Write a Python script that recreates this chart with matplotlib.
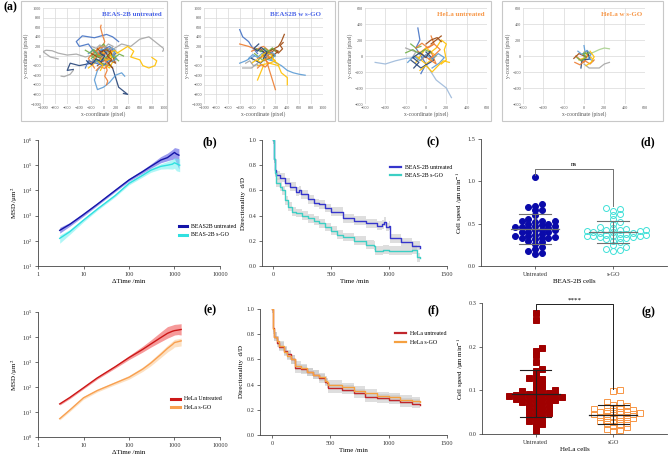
import numpy as np
import matplotlib
matplotlib.use('Agg')
import matplotlib.pyplot as plt
from matplotlib.patches import Rectangle

plt.rcParams['font.family'] = ['Liberation Serif', 'DejaVu Serif']
plt.rcParams['mathtext.fontset'] = 'stix'

W, H = 669, 455
fig = plt.figure(figsize=(W / 100, H / 100), dpi=100)

# ---------------- data ----------------
# (a) trajectories (pixel units)
xl_blue, xl_orange, xl_gray, xl_gold = '#4472C4', '#ED7D31', '#A5A5A5', '#FFC000'
xl_lblue, xl_green, xl_dblue, xl_brown = '#5B9BD5', '#70AD47', '#264478', '#9E480E'

tracks_beas_u = [
    (xl_gray, [(0, 0), (-150, 30), (-300, -20), (-450, 40), (-600, 20), (-750, 60), (-850, 110), (-950, 120), (-1000, 90), (-880, -20), (-750, -60)]),
    (xl_gray, [(100, 100), (300, 250), (450, 200), (600, 350), (750, 400), (850, 300), (950, 200), (1000, 150), (980, 100)]),
    (xl_gray, [(-500, -300), (-550, -380), (-650, -430), (-700, -420)]),
    (xl_blue, [(0, 0), (-150, 80), (-250, 250), (-400, 200), (-450, 300), (-350, 420), (-150, 380), (50, 450), (150, 400), (250, 300)]),
    (xl_dblue, [(0, -50), (-200, -150), (-400, -200), (-550, -150), (-600, -300), (-500, -280)]),
    (xl_dblue, [(50, -100), (150, -250), (200, -450), (250, -650), (350, -750), (400, -800), (330, -780)]),
    (xl_lblue, [(0, -150), (-100, -300), (-150, -500), (-100, -700), (0, -650), (100, -550), (200, -400), (300, -350), (350, -420)]),
    (xl_orange, [(0, 0), (-30, 150), (20, 300), (-20, 450), (-50, 600), (-40, 640)]),
    (xl_orange, [(30, -150), (60, -300), (20, -420), (70, -520), (50, -600)]),
    (xl_gold, [(100, 0), (250, 80), (400, 200), (500, 100), (450, -20), (600, -80), (650, -200), (750, -250), (850, -200), (880, -100), (800, -30)]),
    (xl_gold, [(-250, -250), (-100, -100), (100, -250), (200, 0), (50, 100), (-100, 0)]),
    (xl_green, [(-200, -50), (-100, 50), (0, -100), (100, 50), (50, 150), (-50, 100), (-150, -100)]),
    (xl_green, [(100, -200), (-50, -150), (-200, 0), (0, 250), (150, 0), (250, -100)]),
    (xl_orange, [(-200, -150), (-100, 50), (50, -100), (150, 100), (0, 200), (-150, 100), (-250, -50), (-150, -250)]),
    (xl_brown, [(-100, -200), (50, -50), (200, -150), (100, 150), (-50, -50), (-200, 50)]),
    (xl_blue, [(-50, 100), (100, 200), (200, 50), (0, -200), (-250, -100), (-300, -250)]),
    (xl_lblue, [(-250, 50), (-180, 120), (-100, 60), (-30, 150), (60, 90), (120, 180), (200, 120), (150, 20), (220, -60), (120, -120), (30, -60), (-80, -140), (-180, -80)]),
    (xl_orange, [(-120, -300), (-60, -220), (20, -260), (80, -180), (20, -100), (90, -20), (30, 60), (-60, 20), (-120, 110), (-60, 190)]),
    (xl_green, [(-300, 120), (-220, 60), (-160, 140), (-90, -20), (-20, 40), (40, -40), (110, 20), (180, -40), (260, 40), (330, 0)]),
    (xl_gold, [(-50, -300), (-10, -200), (-80, -120), (-20, -30), (60, -90), (140, -40), (100, 60), (180, 120), (240, 60)]),
    (xl_gray, [(-200, 200), (-120, 160), (-60, 230), (20, 170), (80, 250), (160, 200), (100, 120), (30, 20), (-40, -40)]),
    (xl_dblue, [(-280, -100), (-200, -180), (-120, -60), (-40, -120), (20, 0), (-60, 60), (0, 120), (60, 40)]),
    (xl_brown, [(150, -250), (80, -150), (140, -80), (60, 0), (120, 80), (40, 130), (-40, 80), (-100, 150)]),
]

tracks_beas_go = [
    (xl_lblue, [(0, -50), (150, -100), (300, -200), (400, -300), (500, -350), (600, -380), (700, -400)]),
    (xl_blue, [(-100, 50), (-200, 200), (-250, 300), (-350, 400), (-400, 550)]),
    (xl_orange, [(0, 100), (-150, 150), (-250, 200), (-400, 250)]),
    (xl_orange, [(50, -100), (100, -300), (150, -500), (200, -700)]),
    (xl_gold, [(100, -150), (250, -200), (300, -350), (400, -450), (400, -600)]),
    (xl_gold, [(0, -200), (-50, -350), (-100, -500)]),
    (xl_brown, [(100, 100), (250, 200), (300, 300), (350, 450)]),
    (xl_gray, [(-100, -150), (-200, -250), (-350, -250)]),
    (xl_lblue, [(-150, 0), (-300, -100), (-400, -150)]),
    (xl_green, [(-100, -100), (50, 100), (200, 0), (0, -100), (-150, 50)]),
    (xl_brown, [(0, 0), (150, 150), (250, 100), (100, -50), (-50, 150)]),
    (xl_dblue, [(-200, -50), (-50, -150), (100, 50), (-50, 100)]),
    (xl_gold, [(-100, -200), (100, -150), (200, -100), (50, 0)]),
    (xl_orange, [(-200, 100), (0, 200), (150, 50), (-100, -50)]),
    (xl_brown, [(100, 50), (180, 120), (250, 60), (320, 150), (280, 220), (330, 280)]),
    (xl_lblue, [(-250, -50), (-180, 30), (-100, -30), (-20, 60), (60, 0), (140, 80), (200, 20), (120, -80)]),
    (xl_orange, [(-100, -250), (-40, -180), (30, -230), (90, -150), (20, -80), (100, -20), (40, 40)]),
    (xl_gold, [(-200, -150), (-120, -80), (-50, -130), (20, -60), (-30, 20), (50, 80), (120, 30), (200, -120), (260, -180)]),
    (xl_green, [(-120, 150), (-50, 90), (20, 160), (80, 100), (150, 170), (200, 100)]),
    (xl_gray, [(-300, -150), (-230, -100), (-170, -200), (-100, -180)]),
    (xl_dblue, [(0, -50), (60, 80), (-40, 180), (-100, 100), (-160, 160), (-80, 250)]),
]

tracks_hela_u = [
    ('#9DB9DA', [(0, 0), (-100, -20), (-200, -30), (-300, -60), (-400, -100), (-500, -80)]),
    ('#9DB9DA', [(0, -100), (50, -200), (100, -300), (200, -400), (220, -450), (250, -520)]),
    (xl_blue, [(-80, 350), (-60, 200), (-100, 100), (-50, 0), (0, -100), (-50, -220)]),
    (xl_gold, [(0, 0), (100, 100), (150, 200), (200, 150), (180, 80), (200, -50), (150, -100)]),
    (xl_orange, [(50, 250), (80, 150), (0, 100), (-50, 50)]),
    (xl_green, [(-150, 150), (-100, 100), (-50, 120)]),
    (xl_brown, [(50, 150), (100, 200), (150, 250)]),
    (xl_gold, [(-100, 0), (0, -100), (100, 0), (0, 100), (-100, -80)]),
    (xl_dblue, [(-150, -50), (-50, -150), (80, -50), (0, 50)]),
    (xl_orange, [(-50, -50), (50, 50), (100, -100), (-80, 60)]),
    (xl_gray, [(-200, 100), (-100, 50), (-150, -50)]),
    (xl_lblue, [(-180, -80), (-120, 0), (-60, -60), (0, 20), (60, -40), (120, 30), (180, -20), (130, -90), (60, -150)]),
    (xl_orange, [(-100, 100), (-40, 160), (20, 100), (80, 150), (140, 80), (90, 20), (30, -40)]),
    (xl_gold, [(-60, -180), (0, -120), (60, -200), (120, -120), (170, -60), (230, -80)]),
    (xl_green, [(-200, 40), (-130, 80), (-70, 30), (-10, 80), (50, 40)]),
    (xl_dblue, [(-120, -150), (-70, -80), (-130, -20), (-60, 40), (0, -20), (40, 60)]),
    (xl_brown, [(0, 150), (50, 200), (110, 230), (150, 180)]),
]

tracks_hela_go = [
    ('#A9D18E', [(0, 0), (100, 50), (150, 80), (200, 100), (250, 90)]),
    (xl_gray, [(0, -100), (50, -150), (150, -150), (200, -100), (250, -80)]),
    (xl_lblue, [(0, -50), (10, 50), (0, 130)]),
    (xl_gold, [(-50, -50), (50, 0), (0, 50), (80, -30)]),
    (xl_orange, [(-80, 0), (0, -80), (40, 20)]),
    (xl_dblue, [(-30, -150), (-20, -50), (60, -40), (30, 60)]),
    (xl_brown, [(-100, -30), (-50, 30), (20, -10)]),
    (xl_lblue, [(-60, 60), (-20, 20), (30, 70), (70, 20), (40, -30), (90, -60)]),
    (xl_orange, [(-90, -80), (-40, -110), (10, -60), (60, -100), (100, -50)]),
    (xl_green, [(-70, -20), (-30, -60), (20, -20), (-10, 30), (50, 40)]),
    (xl_gold, [(20, -120), (70, -80), (100, -10), (60, 60)]),
]

# (b) MSD BEAS-2B
msd_t_beas_u = [3, 5, 10, 20, 50, 100, 200, 300, 500, 700, 900, 1000, 1100, 1250]
msd_beas_u = [260, 450, 1100, 2800, 10000, 26000, 56000, 90000, 160000, 200000, 280000, 320000, 280000, 250000]
msd_beas_u_lo = [200, 380, 950, 2500, 9000, 23000, 48000, 75000, 125000, 150000, 170000, 180000, 120000, 70000]
msd_beas_u_hi = [340, 530, 1300, 3200, 11500, 30000, 66000, 110000, 220000, 300000, 420000, 500000, 480000, 450000]
msd_t_beas_go = [3, 5, 10, 20, 50, 100, 200, 300, 500, 700, 900, 1000, 1100, 1300]
msd_beas_go = [125, 230, 660, 1800, 6300, 19000, 40000, 63000, 90000, 100000, 110000, 125000, 115000, 100000]
msd_beas_go_lo = [80, 180, 560, 1600, 5600, 16500, 34000, 52000, 70000, 72000, 70000, 75000, 60000, 55000]
msd_beas_go_hi = [170, 280, 770, 2050, 7000, 22000, 47000, 76000, 115000, 140000, 170000, 200000, 190000, 180000]

# (e) MSD HeLa
msd_t_hela = [3, 5, 10, 20, 50, 100, 200, 300, 500, 700, 900, 1000, 1200, 1400]
msd_hela_u = [21, 38, 93, 230, 650, 1500, 3200, 5200, 9500, 14000, 17000, 18000, 19000, 20000]
msd_hela_u_lo = [19, 34, 84, 205, 570, 1250, 2500, 3900, 6500, 9000, 11000, 12000, 12500, 12000]
msd_hela_u_hi = [23, 42, 103, 255, 740, 1800, 4300, 7500, 16000, 26000, 30000, 32000, 33000, 34000]
msd_hela_go = [5.4, 12, 37, 72, 145, 245, 520, 900, 2000, 3500, 5000, 6000, 6500, 7000]
msd_hela_go_lo = [4.8, 10.5, 32, 63, 125, 205, 420, 700, 1500, 2500, 3400, 4000, 4200, 4400]
msd_hela_go_hi = [6.0, 13.5, 42, 82, 165, 290, 630, 1120, 2600, 4600, 6800, 8000, 8500, 9000]

# (c) directionality BEAS-2B
dir_t_beas_u = [0, 5, 15, 30, 60, 100, 150, 200, 220, 240, 300, 350, 400, 450, 500, 600, 700, 800, 900, 940, 955, 970, 1000, 1010, 1080, 1100, 1150, 1200, 1270]
dir_beas_u = [1.0, 0.85, 0.76, 0.72, 0.7, 0.66, 0.63, 0.59, 0.6, 0.57, 0.53, 0.5, 0.49, 0.46, 0.43, 0.38, 0.36, 0.34, 0.32, 0.33, 0.35, 0.31, 0.32, 0.22, 0.22, 0.19, 0.19, 0.16, 0.14]
dir_t_beas_go = [0, 5, 15, 30, 60, 80, 100, 130, 160, 200, 250, 300, 350, 400, 450, 500, 550, 600, 700, 800, 870, 880, 950, 1000, 1100, 1200, 1235, 1240, 1265]
dir_beas_go = [1.0, 0.85, 0.74, 0.66, 0.63, 0.6, 0.52, 0.47, 0.43, 0.42, 0.4, 0.38, 0.36, 0.34, 0.31, 0.28, 0.25, 0.23, 0.2, 0.17, 0.16, 0.12, 0.13, 0.12, 0.12, 0.13, 0.13, 0.07, 0.06]

# (f) directionality HeLa
dir_t_hela = [0, 5, 20, 40, 60, 100, 130, 160, 200, 250, 300, 350, 400, 450, 470, 480, 550, 600, 700, 800, 900, 1000, 1100, 1200, 1270]
dir_hela_u = [1.0, 0.85, 0.78, 0.73, 0.7, 0.67, 0.64, 0.6, 0.53, 0.52, 0.5, 0.48, 0.45, 0.42, 0.41, 0.37, 0.37, 0.36, 0.33, 0.3, 0.29, 0.28, 0.26, 0.25, 0.24]
dir_hela_go = [1.0, 0.84, 0.78, 0.75, 0.71, 0.66, 0.63, 0.6, 0.55, 0.53, 0.5, 0.48, 0.46, 0.43, 0.42, 0.40, 0.40, 0.38, 0.35, 0.33, 0.31, 0.3, 0.28, 0.27, 0.26]

# (d) cell speed BEAS-2B
speed_beas_u = [1.05, 0.73, 0.71, 0.70, 0.66, 0.66, 0.60, 0.55, 0.53, 0.53, 0.53, 0.52, 0.50, 0.50, 0.48,
                0.47, 0.47, 0.46, 0.46, 0.45, 0.45, 0.43, 0.42, 0.42, 0.40, 0.40, 0.40, 0.38, 0.37, 0.35,
                0.35, 0.34, 0.33, 0.33, 0.33, 0.32, 0.30, 0.28, 0.26, 0.22, 0.20, 0.18, 0.15, 0.14]
speed_beas_go = [0.69, 0.67, 0.65, 0.62, 0.60, 0.55, 0.52, 0.50, 0.46, 0.45, 0.44, 0.43, 0.42, 0.42, 0.41,
                 0.41, 0.40, 0.40, 0.39, 0.39, 0.38, 0.38, 0.37, 0.37, 0.36, 0.36, 0.35, 0.35, 0.34, 0.34,
                 0.33, 0.33, 0.32, 0.30, 0.28, 0.25, 0.22, 0.20, 0.19, 0.18]

# (g) cell speed HeLa
speed_hela_u = [0.278, 0.262, 0.198, 0.19, 0.18, 0.165, 0.15, 0.145, 0.13, 0.128, 0.125, 0.12, 0.115, 0.11,
                0.105, 0.1, 0.1, 0.098, 0.095, 0.093, 0.092, 0.09, 0.09, 0.088, 0.087, 0.086, 0.085, 0.085,
                0.084, 0.082, 0.08, 0.08, 0.078, 0.077, 0.075, 0.073, 0.072, 0.07, 0.068, 0.065, 0.062, 0.06,
                0.058, 0.055, 0.052, 0.05, 0.048, 0.045, 0.042, 0.04, 0.035, 0.03, 0.028, 0.022, 0.018, 0.008]
speed_hela_go = [0.1, 0.098, 0.073, 0.07, 0.067, 0.065, 0.062, 0.06, 0.058, 0.057, 0.055, 0.053, 0.052, 0.05,
                 0.05, 0.048, 0.047, 0.046, 0.045, 0.044, 0.042, 0.04, 0.04, 0.038, 0.036, 0.035, 0.033, 0.03,
                 0.03, 0.028, 0.025, 0.022, 0.02, 0.018, 0.015, 0.012, 0.01, 0.008]


# ---------------- helpers ----------------
def box(l, t, r, b):
    return [l / W, 1 - b / H, (r - l) / W, (b - t) / H]


def traj_panel(frame, area, lim, tracks, title, tcolor):
    l, t, r, b = frame
    fig.patches.append(Rectangle((l / W, 1 - b / H), (r - l) / W, (b - t) / H,
                                 transform=fig.transFigure, fill=False, ec='#C8C8C8', lw=0.8))
    ax = fig.add_axes(box(*area))
    for col, pts in tracks:
        xs, ys = zip(*pts)
        ax.plot(xs, ys, color=col, lw=0.9, alpha=0.9)
    ax.set_xlim(-lim, lim)
    ax.set_ylim(-lim, lim)
    ticks = np.arange(-lim, lim + 1, 200)
    ax.set_xticks(ticks)
    ax.set_yticks(ticks)
    ax.grid(color='#D9D9D9', lw=0.5)
    ax.set_axisbelow(True)
    for s in ax.spines.values():
        s.set_visible(False)
    ax.tick_params(length=0, labelsize=3.1, colors='#595959', pad=1.5)
    ax.set_xlabel('x-coordinate (pixel)', fontsize=4, color='#595959', labelpad=1)
    ax.set_ylabel('y-coordinate (pixel)', fontsize=4, color='#595959', labelpad=1)
    ax.text(0.98, 0.93, title, transform=ax.transAxes, ha='right', va='center',
            fontsize=5, fontweight='bold', color=tcolor)


def prism(ax):
    for s in ['top', 'right']:
        ax.spines[s].set_visible(False)
    for s in ['left', 'bottom']:
        ax.spines[s].set_linewidth(0.6)
        ax.spines[s].set_color('#444444')
    ax.tick_params(direction='out', length=2.5, width=0.5, labelsize=4.5, pad=1.5, colors='#333333')
    ax.tick_params(which='minor', length=0)


def swarm(vals, xc, sx, sy, step, dia):
    # simple beeswarm in pixel space: each point takes the nearest free slot
    placed = []
    xs, ys = [], []
    cands = [0.0]
    for k in range(1, 40):
        cands += [k * 0.5, -k * 0.5]
    for v in sorted(vals):
        yp = v * sy
        for c in cands:
            xp = c * step
            if all(abs(xp - qx) >= step * 0.99 or abs(yp - qy) >= dia for qx, qy in placed):
                break
        placed.append((xp, yp))
        xs.append(xc + xp / sx)
        ys.append(v)
    return xs, ys


def msd_panel(area, series, ylim, legend_at, label):
    ax = fig.add_axes(box(*area))
    for t, m, lo, hi, c, cb, name in series:
        ax.fill_between(t, lo, hi, color=cb, alpha=0.55, lw=0)
        ax.plot(t, m, color=c, lw=1.0, label=name)
    ax.set_xscale('log')
    ax.set_yscale('log')
    ax.set_xlim(1, 10000)
    ax.set_ylim(*ylim)
    ax.set_xticks([1, 10, 100, 1000, 10000])
    ax.set_xticklabels(['1', '10', '100', '1000', '10000'])
    prism(ax)
    ax.set_xlabel('ΔTime /min', fontsize=5, labelpad=1.5)
    ax.set_ylabel('MSD /μm$^2$', fontsize=5, labelpad=1.5)
    ax.legend(loc='center left', bbox_to_anchor=legend_at, frameon=False, fontsize=4.2,
              handlelength=1.4, handleheight=0.5, labelspacing=0.6, borderaxespad=0)
    for h in ax.get_legend().get_lines():
        h.set_linewidth(2.2)
    fig.text(label[0] / W, 1 - label[1] / H, label[2], fontsize=8.5, fontweight='bold', ha='center', va='center')
    return ax


def dir_panel(area, series, legend_at, label):
    ax = fig.add_axes(box(*area))
    for t, v, c, name in series:
        v = np.array(v)
        ax.fill_between(t, v - 0.035, v + 0.035, step='post', color='#C8C8C8', alpha=0.6, lw=0)
        ax.plot(t, v, color=c, lw=1.0, drawstyle='steps-post', label=name)
    ax.set_ylim(0, 1.0)
    ax.set_yticks(np.arange(0, 1.01, 0.2))
    ax.set_yticklabels(['0.0', '0.2', '0.4', '0.6', '0.8', '1.0'])
    ax.set_xticks([0, 500, 1000, 1500])
    prism(ax)
    ax.set_xlabel('Time /min', fontsize=5, labelpad=1.5)
    ax.set_ylabel('Directionality  d/D', fontsize=5, labelpad=1.5)
    ax.legend(loc='center left', bbox_to_anchor=legend_at, frameon=False, fontsize=4.2,
              handlelength=1.8, labelspacing=0.6, borderaxespad=0)
    for h in ax.get_legend().get_lines():
        h.set_linewidth(1.6)
    fig.text(label[0] / W, 1 - label[1] / H, label[2], fontsize=8.5, fontweight='bold', ha='center', va='center')
    return ax


def speed_panel(area, groups, names, xlab, ylim, yticks, scale, ebcol, bracket, star, label):
    ax = fig.add_axes(box(*area))
    sx, sy = scale
    for i, (vals, c, marker, filled, ms) in enumerate(groups):
        xs, ys = swarm(vals, i, sx, sy, 6.6, 3.8)
        ax.plot(xs, ys, ls='none', marker=marker, ms=ms, mew=0.7,
                mfc=c if filled else 'none', mec=c, zorder=2)
        m, sd = np.mean(vals), np.std(vals, ddof=1)
        ax.plot([i - 0.31, i + 0.31], [m, m], color=ebcol, lw=0.9, zorder=3)
        ax.plot([i, i], [m - sd, m + sd], color=ebcol, lw=0.8, zorder=3)
        for y in (m - sd, m + sd):
            ax.plot([i - 0.2, i + 0.2], [y, y], color=ebcol, lw=0.8, zorder=3)
    ax.plot([0, 0, 1, 1], bracket, color=ebcol, lw=0.7, clip_on=False)
    ax.text(0.5, bracket[1] + (ylim[1] - ylim[0]) * 0.012, star, ha='center', va='bottom', fontsize=5)
    ax.set_xlim(-0.69, 1.69)
    ax.set_ylim(*ylim)
    ax.set_yticks(yticks)
    ax.set_yticklabels(['%.1f' % y for y in yticks])
    ax.set_xticks([0, 1])
    ax.set_xticklabels(names)
    prism(ax)
    ax.set_xlabel(xlab, fontsize=5, labelpad=2)
    ax.set_ylabel('Cell speed /μm min$^{-1}$', fontsize=5, labelpad=1.5)
    fig.text(label[0] / W, 1 - label[1] / H, label[2], fontsize=8.5, fontweight='bold', ha='center', va='center')
    return ax


# ---------------- row (a) ----------------
fig.text(3 / W, 1 - 7 / H, '(a)', fontsize=8.5, fontweight='bold', ha='left', va='center')
traj_panel((21, 1, 167, 121), (43, 8, 164, 104), 1000, tracks_beas_u, 'BEAS-2B untreated', '#4A64E8')
traj_panel((181, 1, 335, 121), (204, 8, 323, 104), 1000, tracks_beas_go, 'BEAS2B w s-GO', '#4A64E8')
traj_panel((338, 1, 491, 121), (365, 8, 487, 104), 600, tracks_hela_u, 'HeLa untreated', '#F79646')
traj_panel((502, 1, 663, 121), (523, 8, 645, 104), 600, tracks_hela_go, 'HeLa w s-GO', '#F79646')

# ---------------- row (b)-(d) ----------------
msd_panel((38, 140, 220, 266),
          [(msd_t_beas_u, msd_beas_u, msd_beas_u_lo, msd_beas_u_hi, '#1414A8', '#4A4AE0', 'BEAS2B untreated'),
           (msd_t_beas_go, msd_beas_go, msd_beas_go_lo, msd_beas_go_hi, '#30E0E0', '#70F0F0', 'BEAS-2B s-GO')],
          (10, 1e6), (0.76, 0.28), (210, 142, '(b)'))

ax_c = dir_panel((262, 140, 447, 266),
                 [(dir_t_beas_u, dir_beas_u, '#3535CC', 'BEAS-2B untreated'),
                  (dir_t_beas_go, dir_beas_go, '#3CCFC4', 'BEAS-2B s-GO')],
                 (0.68, 0.75), (433, 142, '(c)'))
ax_c.set_xlim(-95, 1500)

speed_panel((481, 139, 667, 266),
            [(speed_beas_u, '#0A0AAA', 'o', True, 4.3), (speed_beas_go, '#40E0D8', 'o', False, 4.3)],
            ['Untreated', 's-GO'], 'BEAS-2B cells', (0, 1.5), [0.0, 0.5, 1.0, 1.5],
            (78, 84.7), '#707070', [1.08, 1.15, 1.15, 0.71], 'ns', (648, 142, '(d)'))

# ---------------- row (e)-(g) ----------------
msd_panel((38, 312, 220, 437),
          [(msd_t_hela, msd_hela_u, msd_hela_u_lo, msd_hela_u_hi, '#CC1818', '#F04848', 'HeLa Untreated'),
           (msd_t_hela, msd_hela_go, msd_hela_go_lo, msd_hela_go_hi, '#F8A050', '#FCC890', 'HeLa s-GO')],
          (1, 1e5), (0.72, 0.27), (210, 310, '(e)'))

ax_f = dir_panel((260, 309, 447, 435),
                 [(dir_t_hela, dir_hela_u, '#C0262C', 'HeLa untreated'),
                  (dir_t_hela, dir_hela_go, '#F5A040', 'HeLa s-GO')],
                 (0.71, 0.77), (433, 310, '(f)'))
ax_f.set_xlim(-103, 1500)

speed_panel((482, 303, 667, 434),
            [(speed_hela_u, '#A00000', 's', True, 4.3), (speed_hela_go, '#F79646', 's', False, 4.3)],
            ['Untreated', 'sGO'], 'HeLa cells', (0, 0.3), [0.0, 0.1, 0.2, 0.3],
            (78, 437), '#202020', [0.284, 0.297, 0.297, 0.104], '****', (648, 312, '(g)'))

fig.savefig('out.png', dpi=100)
